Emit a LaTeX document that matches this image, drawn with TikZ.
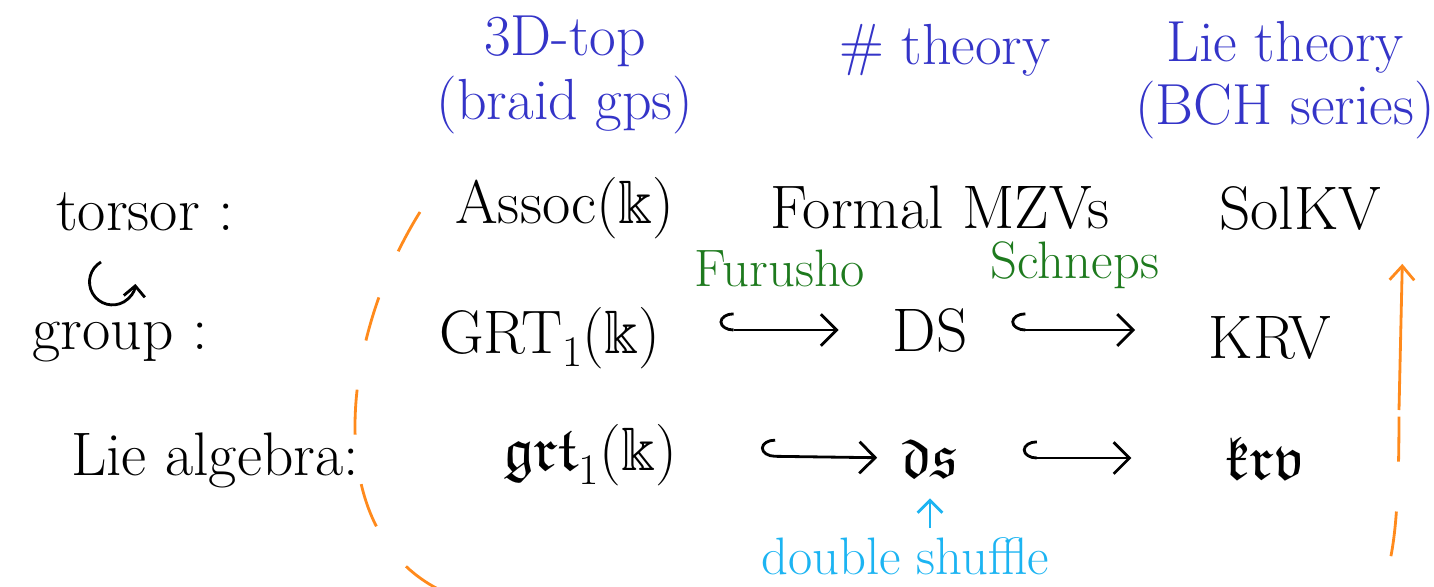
\documentclass[tikz,border=0pt]{standalone}
\usepackage{amssymb}
\usepackage{tikz}
\usetikzlibrary{arrows.meta, positioning, calc}
\usepackage{xcolor}
\definecolor{inkblue}{HTML}{3434C8}
\definecolor{inkgreen}{HTML}{1E7A1E}
\definecolor{inkcyan}{HTML}{1CB4F2}
\definecolor{inkorange}{HTML}{FF8A1C}

\begin{document}
\begin{tikzpicture}[x=0.02cm, y=-0.02cm,
    obj/.style={font=\fontsize{35}{40}\selectfont, inner sep=2pt},
    kind/.style={font=\fontsize{35}{40}\selectfont, inner sep=2pt},
    field/.style={font=\fontsize{33}{36}\selectfont, text=inkblue, align=center, inner sep=2pt},
    who/.style={font=\fontsize{30}{34}\selectfont, text=inkgreen, inner sep=2pt},
    hookarrow/.style={{Hooks[right,length=8pt,width=20pt]}-{Straight Barb[length=9pt,width=18pt]}, line width=1.6pt},
    bigloop/.style={inkorange, line width=1.6pt, dash pattern=on 0.9cm off 1cm},
    loopend/.style={inkorange, line width=1.6pt, -{Straight Barb[length=8pt,width=14pt]}},
    note/.style={inkcyan, line width=1.6pt, -{Straight Barb[length=7pt,width=14pt]}}
  ]
    \useasboundingbox (0,0) rectangle (1434,586);

    % headers
    \node[field] (topology) at (565,75) {3D-top\\(braid gps)};
    \node[field] (numbers) at (945,50) {\# theory};
    \node[field] (lietheory) at (1285,80) {Lie theory\\(BCH series)};

    % row labels
    \node[kind] (torsor) at (145,212) {torsor :};
    \node[kind] (group) at (120,342) {group :};
    \node[kind] (liealg) at (215,460) {Lie algebra:};

    % torsors
    \node[obj] (assoc) at (565,208) {Assoc($\Bbbk$)};
    \node[obj] (mzv) at (940,208) {Formal MZVs};
    \node[obj] (solkv) at (1300,208) {SolKV};

    % groups
    \node[obj] (grt) at (550,338) {GRT$_1$($\Bbbk$)};
    \node[obj] (DS) at (930,330) {DS};
    \node[obj] (krvgp) at (1270,338) {KRV};

    % Lie algebras
    \node[obj] (grtlie) at (590,455) {$\mathfrak{grt}_1$($\Bbbk$)};
    \node[obj] (dslie) at (930,458) {$\mathfrak{ds}$};
    \node[obj] (krvlie) at (1265,458) {$\mathfrak{krv}$};

    \node[who] (furusho) at (780,268) {Furusho};
    \node[who] (schneps) at (1075,265) {Schneps};
    \node[font=\fontsize{30}{34}\selectfont, text=inkcyan, inner sep=1pt] (dshuffle) at (905,556) {double shuffle};

    % action symbol
    \coordinate (actstart) at (101,262);
    \draw[line width=1.6pt, -{Straight Barb[length=6pt,width=12pt]}] (actstart) arc[start angle=120, end angle=355, radius=0.46cm];

    \draw[hookarrow, shorten <=1.1cm, shorten >=1.0cm] (grt.east |- DS) -- (DS.west);
    \draw[hookarrow, shorten <=0.8cm, shorten >=1.4cm] (DS.east) -- (krvgp.west |- DS);
    \draw[hookarrow, shorten <=1.6cm, shorten >=0.4cm] (grtlie.east) -- (dslie.west);
    \draw[hookarrow, shorten <=1.2cm, shorten >=1.8cm] (dslie.east) -- (krvlie.west);

    \draw[note, shorten <=4pt, shorten >=0.35cm] (dshuffle.north -| dslie) -- (dslie.south);

    \coordinate (loopstart) at (420,212);
    \coordinate (loopbend) at (1399,410);
    \draw[bigloop] (loopstart) .. controls (340,340) and (320,530) .. (440,590)
      .. controls (600,700) and (1300,700) .. (1380,590)
      .. controls (1396,560) and (1399,500) .. (loopbend);
    \draw[loopend] (loopbend) -- ([xshift=0.35cm, yshift=-0.6cm]solkv.south east);
  \end{tikzpicture}
\end{document}
